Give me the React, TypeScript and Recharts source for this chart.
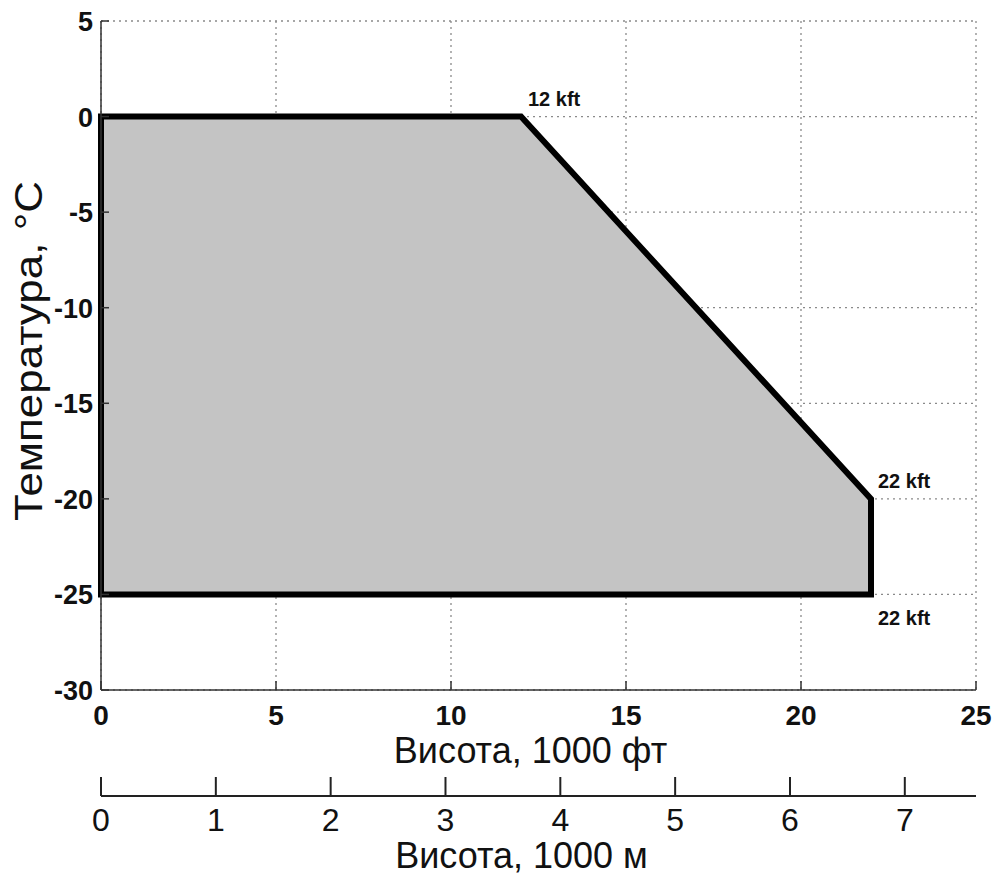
import { ComposedChart, Area, Line, XAxis, YAxis, CartesianGrid, ReferenceDot } from "recharts";

// polygon of the allowed envelope (altitude in kft, temperature in °C)
const envFt = [0, 12, 22];
const envTop = [0, 0, -20];
const envBottom = [-25, -25, -25];

const outlineFt = [0, 12, 22, 22, 0, 0];
const outlineT = [0, 0, -20, -25, -25, 0];

const ftTicks = [0, 5, 10, 15, 20, 25];
const tempTicks = [-30, -25, -20, -15, -10, -5, 0, 5];
const kmTicks = [0, 1, 2, 3, 4, 5, 6, 7];
const KM_MAX = 7.62; // 25 kft

const annFt = [12, 22, 22];
const annT = [0, -20, -25];
const annText = ["12 kft", "22 kft", "22 kft"];
const annSide = ["above", "above", "below"];

const areaData = envFt.map((ft, i) => ({ ft, range: [envBottom[i], envTop[i]] }));
const outlineData = outlineFt.map((ft, i) => ({ ft, t: outlineT[i] }));
// invisible carrier so the metre axis gets a domain
const kmData = [0, KM_MAX].map((km) => ({ km, t: -30 }));

const FONT = "'Liberation Sans', Arial, sans-serif";

const FtTick = ({ x, y, payload }: any) => (
  <g>
    <line x1={x} y1={y} x2={x} y2={y - 9} stroke="#333" strokeWidth={1.5} />
    <text x={x} y={y + 35} textAnchor="middle" fontFamily={FONT} fontWeight="bold" fontSize={28} fill="#111">
      {payload.value}
    </text>
  </g>
);

const TempTick = ({ x, y, payload }: any) => (
  <g>
    <line x1={x} y1={y} x2={x + 8} y2={y} stroke="#333" strokeWidth={1.5} />
    <text x={x - 8} y={y + 10} textAnchor="end" fontFamily={FONT} fontWeight="bold" fontSize={27} fill="#111">
      {payload.value}
    </text>
  </g>
);

const KmTick = ({ x, y, payload }: any) => (
  <g>
    <line x1={x} y1={y} x2={x} y2={y - 19} stroke="#222" strokeWidth={2} />
    <text x={x} y={y + 35} textAnchor="middle" fontFamily={FONT} fontSize={32} fill="#111">
      {payload.value}
    </text>
  </g>
);

const annLabel = (side: string, text: string) => (props: any) => {
  const vb = props.viewBox || {};
  const cx = vb.x + (vb.width || 0) / 2;
  const cy = vb.y + (vb.height || 0) / 2;
  return (
    <text
      x={cx + 7}
      y={side === "above" ? cy - 11 : cy + 31}
      fontFamily={FONT}
      fontWeight="bold"
      fontSize={20}
      fill="#111"
    >
      {text}
    </text>
  );
};

export default function App() {
  return (
    <div style={{ position: "absolute", left: 0, top: 0, background: "#fff" }}>
      <ComposedChart width={1001} height={879} margin={{ top: 21, right: 25, bottom: 0, left: 0 }}>
        <CartesianGrid xAxisId="ft" stroke="#8a8a8a" strokeDasharray="2 4" strokeWidth={1.3} />
        <XAxis
          xAxisId="ft"
          dataKey="ft"
          type="number"
          domain={[0, 25]}
          ticks={ftTicks}
          interval={0}
          height={106}
          tickSize={0}
          tickMargin={0}
          tick={<FtTick />}
          axisLine={{ stroke: "#333", strokeWidth: 1.5 }}
          tickLine={false}
          label={{
            content: (p: any) => (
              <text
                x={p.viewBox.x + p.viewBox.width / 2 - 8}
                y={p.viewBox.y + 73}
                textAnchor="middle"
                fontFamily={FONT}
                fontSize={36}
                fill="#111"
              >
                Висота, 1000 фт
              </text>
            ),
          }}
        />
        <XAxis
          xAxisId="km"
          dataKey="km"
          type="number"
          domain={[0, KM_MAX]}
          allowDataOverflow
          ticks={kmTicks}
          interval={0}
          height={83}
          tickSize={0}
          tickMargin={0}
          tick={<KmTick />}
          axisLine={{ stroke: "#222", strokeWidth: 2 }}
          tickLine={false}
          label={{
            content: (p: any) => (
              <text
                x={p.viewBox.x + p.viewBox.width / 2 - 17}
                y={p.viewBox.y + 72}
                textAnchor="middle"
                fontFamily={FONT}
                fontSize={36}
                fill="#111"
              >
                Висота, 1000 м
              </text>
            ),
          }}
        />
        <YAxis
          type="number"
          domain={[-30, 5]}
          ticks={tempTicks}
          interval={0}
          width={101}
          tickSize={0}
          tickMargin={0}
          tick={<TempTick />}
          axisLine={{ stroke: "#333", strokeWidth: 1.5 }}
          tickLine={false}
          label={{
            content: () => (
              <text
                x={42}
                y={351}
                transform="rotate(-90, 42, 351)"
                textAnchor="middle"
                fontFamily={FONT}
                fontSize={39}
                textLength={340}
                lengthAdjust="spacingAndGlyphs"
                fill="#111"
              >
                Температура, °C
              </text>
            ),
          }}
        />
        <Area
          xAxisId="ft"
          data={areaData}
          dataKey="range"
          type="linear"
          fill="#c4c4c4"
          fillOpacity={1}
          stroke="none"
          isAnimationActive={false}
        />
        <Line
          xAxisId="km"
          data={kmData}
          dataKey="t"
          stroke="none"
          dot={false}
          activeDot={false}
          legendType="none"
          isAnimationActive={false}
        />
        <Line
          xAxisId="ft"
          data={outlineData}
          dataKey="t"
          type="linear"
          stroke="#000"
          strokeWidth={6}
          strokeLinejoin="miter"
          strokeLinecap="square"
          dot={false}
          isAnimationActive={false}
        />
        {annFt.map((ft, i) => (
          <ReferenceDot
            key={i}
            xAxisId="ft"
            x={ft}
            y={annT[i]}
            r={0}
            fill="none"
            stroke="none"
            label={{ content: annLabel(annSide[i], annText[i]) }}
          />
        ))}
      </ComposedChart>
    </div>
  );
}
